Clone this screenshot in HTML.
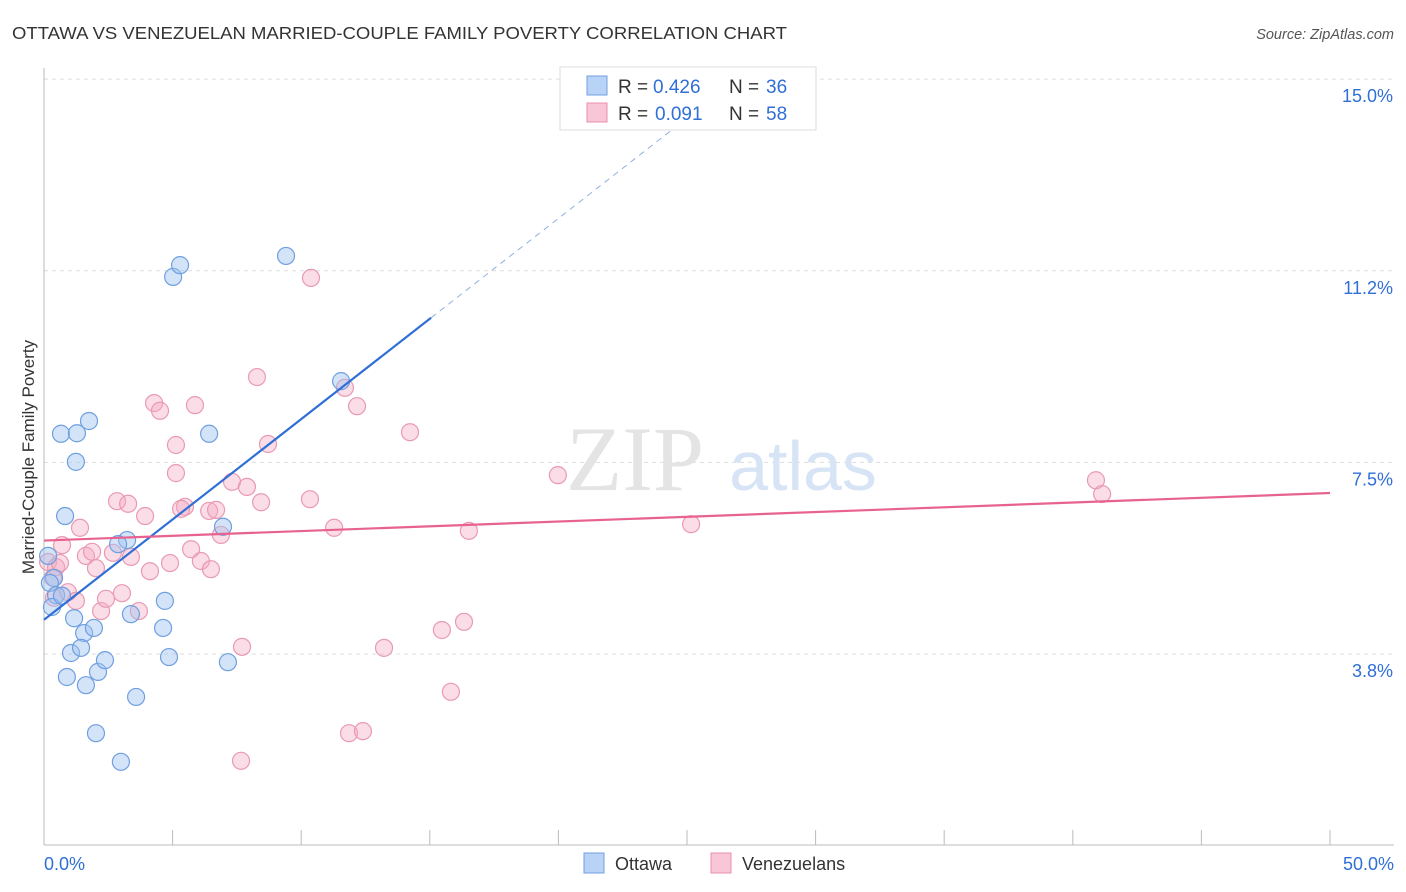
<!DOCTYPE html>
<html><head><meta charset="utf-8"><style>
body{margin:0;background:#fff;font-family:"Liberation Sans",sans-serif;}
svg{display:block}
</style></head><body>
<svg id="chart" width="1406" height="892">
<text x="12" y="39" font-size="17.5" fill="#333" textLength="775" lengthAdjust="spacingAndGlyphs">OTTAWA VS VENEZUELAN MARRIED-COUPLE FAMILY POVERTY CORRELATION CHART</text>
<text x="1394" y="39" font-size="14.5" fill="#555" font-style="italic" text-anchor="end">Source: ZipAtlas.com</text>
<text x="34" y="457" font-size="17" fill="#333" text-anchor="middle" transform="rotate(-90 34 457)">Married-Couple Family Poverty</text>
<g id="grid"></g>
<g id="wm"><text x="635" y="490" font-size="92" fill="#e4e4e4" font-family="Liberation Serif,serif" text-anchor="middle">ZIP</text><text x="803" y="490" font-size="70" fill="#d6e4f5" text-anchor="middle">atlas</text></g>
<g id="pts"></g>
<g id="lines"></g>
<g>
<rect x="560" y="67" width="256" height="63" fill="#fff" stroke="#ddd"/>
<rect x="587" y="76" width="20" height="19" fill="#b8d3f5" stroke="#6f9fe0"/>
<text x="618" y="93" font-size="19" fill="#333">R =</text><text x="653" y="93" font-size="19" fill="#2f6fd6">0.426</text>
<text x="729" y="93" font-size="19" fill="#333">N =</text><text x="766" y="93" font-size="19" fill="#2f6fd6">36</text>
<rect x="587" y="103" width="20" height="19" fill="#f8c6d6" stroke="#e890ab"/>
<text x="618" y="120" font-size="19" fill="#333">R =</text><text x="655" y="120" font-size="19" fill="#2f6fd6">0.091</text>
<text x="729" y="120" font-size="19" fill="#333">N =</text><text x="766" y="120" font-size="19" fill="#2f6fd6">58</text>
</g>
<g>
<rect x="584" y="853" width="20" height="20" fill="#b8d3f5" stroke="#6f9fe0"/>
<text x="615" y="870" font-size="18" fill="#333">Ottawa</text>
<rect x="711" y="853" width="20" height="20" fill="#f8c6d6" stroke="#e890ab"/>
<text x="742" y="870" font-size="18" fill="#333">Venezuelans</text>
</g>
</svg>
<script>
const yTicks=[3.8,7.5,11.2,15.0];
const yTickVals=[3.75,7.5,11.25,15];
const xLabels=["0.0%","50.0%"];
const ottawaX=[.16,.39,.23,.47,.31,.70,.82,.66,1.28,1.75,1.24,1.17,1.56,1.94,1.05,1.44,.89,1.63,2.10,2.37,2.02,2.99,3.58,3.38,4.70,4.63,4.86,7.15,6.96,6.42,5.02,5.29,9.41,11.55,3.23,2.88];
const ottawaY=[5.67,5.24,5.14,4.90,4.67,4.89,6.45,8.06,8.07,8.31,7.51,4.45,4.16,4.26,3.77,3.87,3.30,3.14,3.40,3.63,2.20,1.64,2.91,4.53,4.79,4.26,3.69,3.59,6.24,8.06,11.13,11.36,11.54,9.09,5.98,5.90];
const venX=[.16,.47,.62,.35,.70,1.40,1.63,1.87,2.02,.39,.93,1.24,2.22,2.41,3.03,2.68,3.38,2.84,3.27,3.93,4.12,3.69,4.28,4.51,5.13,5.13,5.87,5.48,5.33,4.90,5.72,6.10,6.42,6.49,6.69,6.88,7.31,7.89,8.44,8.71,8.28,7.70,7.66,10.38,10.34,11.28,11.70,12.17,11.86,12.40,13.22,14.23,15.47,16.33,15.82,16.52,19.98,25.16,40.90,41.14];
const venY=[5.55,5.45,5.53,5.24,5.88,6.22,5.67,5.75,5.43,4.85,4.96,4.79,4.59,4.83,4.94,5.73,5.65,6.74,6.69,6.45,5.37,4.59,8.66,8.51,7.29,7.84,8.62,6.63,6.59,5.53,5.80,5.57,6.55,5.41,6.57,6.08,7.12,7.02,6.72,7.86,9.17,3.89,1.66,11.11,6.78,6.22,8.96,8.60,2.20,2.24,3.87,8.09,4.22,4.38,3.01,6.16,7.25,6.29,7.15,6.88];
const ottawaTrend=[4.42,10.33];
const venTrend=[5.97,6.90];
const NS='http://www.w3.org/2000/svg';
const sx=v=>44+v*25.72;
const sy=v=>654-(v-3.75)*51.1;
function mk(t,a,p){const e=document.createElementNS(NS,t);for(const k in a)e.setAttribute(k,a[k]);p.appendChild(e);return e;}
const grid=document.getElementById('grid');
yTickVals.forEach((v,i)=>{
 const l=mk('line',{x1:44,x2:1394,y1:sy(v),y2:sy(v),stroke:'#ddd','stroke-dasharray':'4,4'},grid);
 
 
 const t=mk('text',{x:1393,y:sy(v)+23,'font-size':18,fill:'#2f6fd6','text-anchor':'end'},grid);
 t.textContent=yTicks[i].toFixed(1)+'%';
 
 
});
const ax=mk('line',{x1:44,x2:44,y1:68,y2:845,stroke:'#bbb'},grid);


const bx=mk('line',{x1:44,x2:1394,y1:845,y2:845,stroke:'#bbb'},grid);


for(let i=1;i<=10;i++){const t=mk('line',{x1:sx(i*5),x2:sx(i*5),y1:830,y2:845,stroke:'#bbb'},grid);
 
 }
[[0,'start',44],[50,'end',1394]].forEach((d,i)=>{const t=mk('text',{x:d[2],y:870,'font-size':18,fill:'#2f6fd6','text-anchor':d[1]},grid);t.textContent=xLabels[i];
 
 });
const pts=document.getElementById('pts');
venX.forEach((x,i)=>{const c=mk('circle',{cx:sx(x),cy:sy(venY[i]),r:8.5,fill:'rgba(244,170,195,0.4)',stroke:'#e99ab3','stroke-width':1.2},pts);
 
 });
ottawaX.forEach((x,i)=>{const c=mk('circle',{cx:sx(x),cy:sy(ottawaY[i]),r:8.5,fill:'rgba(160,195,240,0.45)',stroke:'#6f9fe0','stroke-width':1.2},pts);
 
 });
const lines=document.getElementById('lines');
const by=x=>ottawaTrend[0]+(ottawaTrend[1]-ottawaTrend[0])*x/15.05;
const b1=mk('line',{x1:sx(0),y1:sy(by(0)),x2:sx(15.05),y2:sy(by(15.05)),stroke:'#2f6fd6','stroke-width':2.2},lines);


const b2=mk('line',{x1:sx(15.05),y1:sy(by(15.05)),x2:sx(26),y2:sy(by(26)),stroke:'#8fb0e0','stroke-width':1,'stroke-dasharray':'6,5'},lines);


const p1=mk('line',{x1:sx(0),y1:sy(venTrend[0]),x2:sx(50),y2:sy(venTrend[1]),stroke:'#e8628f','stroke-width':2.2},lines);


</script>
</body></html>
